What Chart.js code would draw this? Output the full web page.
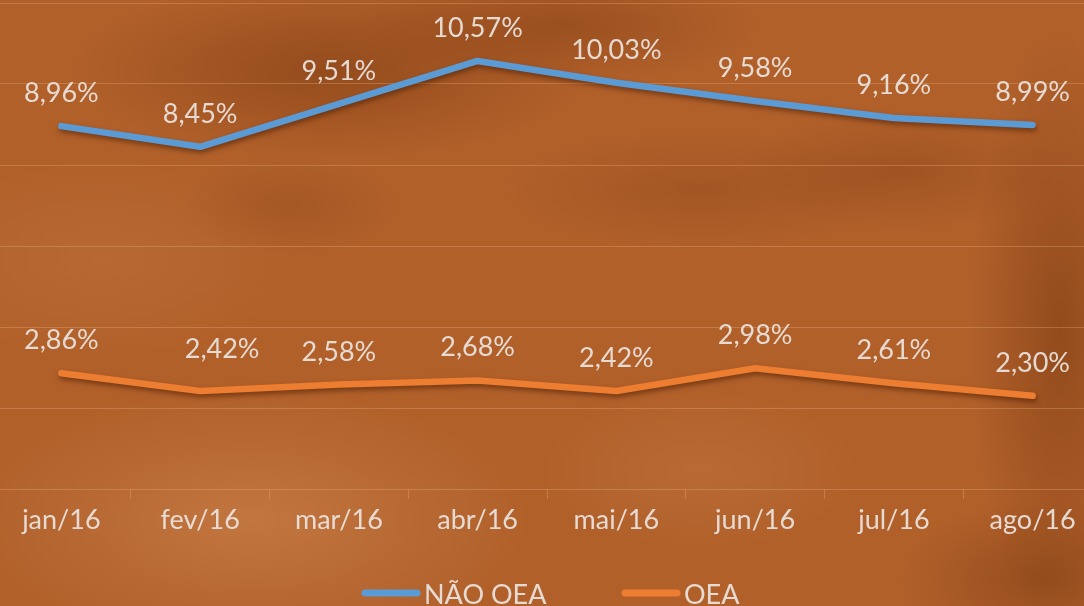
<!DOCTYPE html>
<html>
<head>
<meta charset="utf-8">
<script src="https://cdn.jsdelivr.net/npm/chart.js@4.4.1/dist/chart.umd.min.js"></script>
<style>
  html, body { margin: 0; padding: 0; width: 1084px; height: 606px; overflow: hidden; }
  body {
    position: relative;
    background:
      radial-gradient(ellipse 260px 90px at 330px 70px, rgba(120,55,15,0.50), rgba(120,55,15,0) 100%),
      radial-gradient(ellipse 200px 60px at 560px 25px, rgba(120,55,15,0.40), rgba(120,55,15,0) 100%),
      radial-gradient(ellipse 110px 50px at 290px 205px, rgba(120,55,15,0.22), rgba(120,55,15,0) 100%),
      radial-gradient(ellipse 200px 60px at 700px 190px, rgba(120,55,15,0.25), rgba(120,55,15,0) 100%),
      radial-gradient(ellipse 90px 300px at 1060px 330px, rgba(110,50,12,0.45), rgba(110,50,12,0) 100%),
      radial-gradient(ellipse 140px 80px at 1040px 580px, rgba(110,50,12,0.40), rgba(110,50,12,0) 100%),
      radial-gradient(ellipse 160px 60px at 900px 170px, rgba(120,55,15,0.30), rgba(120,55,15,0) 100%),
      radial-gradient(ellipse 280px 130px at 250px 520px, rgba(215,145,90,0.45), rgba(215,145,90,0) 100%),
      radial-gradient(ellipse 160px 80px at 700px 470px, rgba(205,130,75,0.30), rgba(205,130,75,0) 100%),
      radial-gradient(ellipse 200px 100px at 100px 260px, rgba(200,125,70,0.30), rgba(200,125,70,0) 100%),
      #B1602A;
  }
  #wrap { position: absolute; left: -8px; top: 0; width: 1112px; height: 620px; }
</style>
</head>
<body>
<div id="wrap"><canvas id="c" width="1112" height="620"></canvas></div>
<script>
const categories = ['jan/16', 'fev/16', 'mar/16', 'abr/16', 'mai/16', 'jun/16', 'jul/16', 'ago/16'];
const naoOea = [8.96, 8.45, 9.51, 10.57, 10.03, 9.58, 9.16, 8.99];
const oea = [2.86, 2.42, 2.58, 2.68, 2.42, 2.98, 2.61, 2.30];
const seriesNames = ['NÃO OEA', 'OEA'];
const yTicks = [0, 2, 4, 6, 8, 10, 12];

const FONT = 'Lato, "Noto Sans", sans-serif';
const TEXT = 'rgba(232,224,218,0.96)';
const GRID = 'rgba(240,185,140,0.30)';
const FS = 27;

const shadowPlugin = {
  id: 'shadow',
  beforeDatasetDraw(chart) {
    const ctx = chart.ctx;
    ctx.save();
    ctx.shadowColor = 'rgba(70,25,0,0.55)';
    ctx.shadowBlur = 5;
    ctx.shadowOffsetX = 1;
    ctx.shadowOffsetY = 3;
  },
  afterDatasetDraw(chart) { chart.ctx.restore(); }
};

const labelPlugin = {
  id: 'valueLabels',
  afterDatasetsDraw(chart) {
    const ctx = chart.ctx;
    ctx.save();
    ctx.font = FS + 'px ' + FONT;
    ctx.fillStyle = TEXT;
    ctx.textAlign = 'center';
    ctx.textBaseline = 'alphabetic';
    chart.data.datasets.forEach((ds, di) => {
      const meta = chart.getDatasetMeta(di);
      const shifts = ds.labelShift || {};
      meta.data.forEach((pt, i) => {
        const s = shifts[i] || [0, 0];
        const txt = ds.data[i].toFixed(2).replace('.', ',') + '%';
        ctx.fillText(txt, pt.x + s[0], pt.y - 24 + s[1]);
      });
    });
    ctx.restore();
  }
};

const legendPlugin = {
  id: 'customLegend',
  afterDraw(chart) {
    const ctx = chart.ctx;
    ctx.save();
    ctx.font = FS + 'px ' + FONT;
    ctx.textBaseline = 'alphabetic';
    ctx.textAlign = 'left';
    const y = 593;
    const starts = [370, 630];
    chart.data.datasets.forEach((ds, di) => {
      const x0 = starts[di];
      ctx.strokeStyle = ds.borderColor;
      ctx.lineWidth = 7;
      ctx.lineCap = 'round';
      ctx.beginPath();
      ctx.moveTo(x0 + 3, y);
      ctx.lineTo(x0 + 55, y);
      ctx.stroke();
      ctx.fillStyle = TEXT;
      ctx.fillText(ds.label, x0 + 62, y + 11);
    });
    ctx.restore();
  }
};

new Chart(document.getElementById('c'), {
  type: 'line',
  data: {
    labels: categories,
    datasets: [
      { label: seriesNames[0], data: naoOea, borderColor: '#5B9BD5', backgroundColor: '#5B9BD5',
        borderWidth: 6.5, pointRadius: 0, tension: 0, borderCapStyle: 'round', borderJoinStyle: 'round' },
      { label: seriesNames[1], data: oea, borderColor: '#ED7D31', backgroundColor: '#ED7D31',
        borderWidth: 6.5, pointRadius: 0, tension: 0, borderCapStyle: 'round', borderJoinStyle: 'round',
        labelShift: { 1: [22, -9] } }
    ]
  },
  options: {
    responsive: false,
    animation: false,
    layout: { padding: { top: 3, right: 2, left: 0, bottom: 0 } },
    plugins: { legend: { display: false }, tooltip: { enabled: false } },
    scales: {
      x: {
        offset: true,
        grid: { display: true, drawOnChartArea: false, drawTicks: true, tickLength: 10, color: GRID, offset: true },
        border: { display: false },
        ticks: { color: TEXT, font: { family: FONT, size: FS }, padding: 5, maxRotation: 0 },
        afterFit(s) { s.height = 131; }
      },
      y: {
        min: yTicks[0], max: yTicks[yTicks.length - 1],
        afterBuildTicks(s) { s.ticks = yTicks.map(v => ({ value: v })); },
        grid: { color: GRID, lineWidth: 1, drawTicks: false },
        border: { display: false },
        ticks: { display: false },
        afterFit(s) { s.width = 0; }
      }
    }
  },
  plugins: [shadowPlugin, labelPlugin, legendPlugin]
});
</script>
</body>
</html>
